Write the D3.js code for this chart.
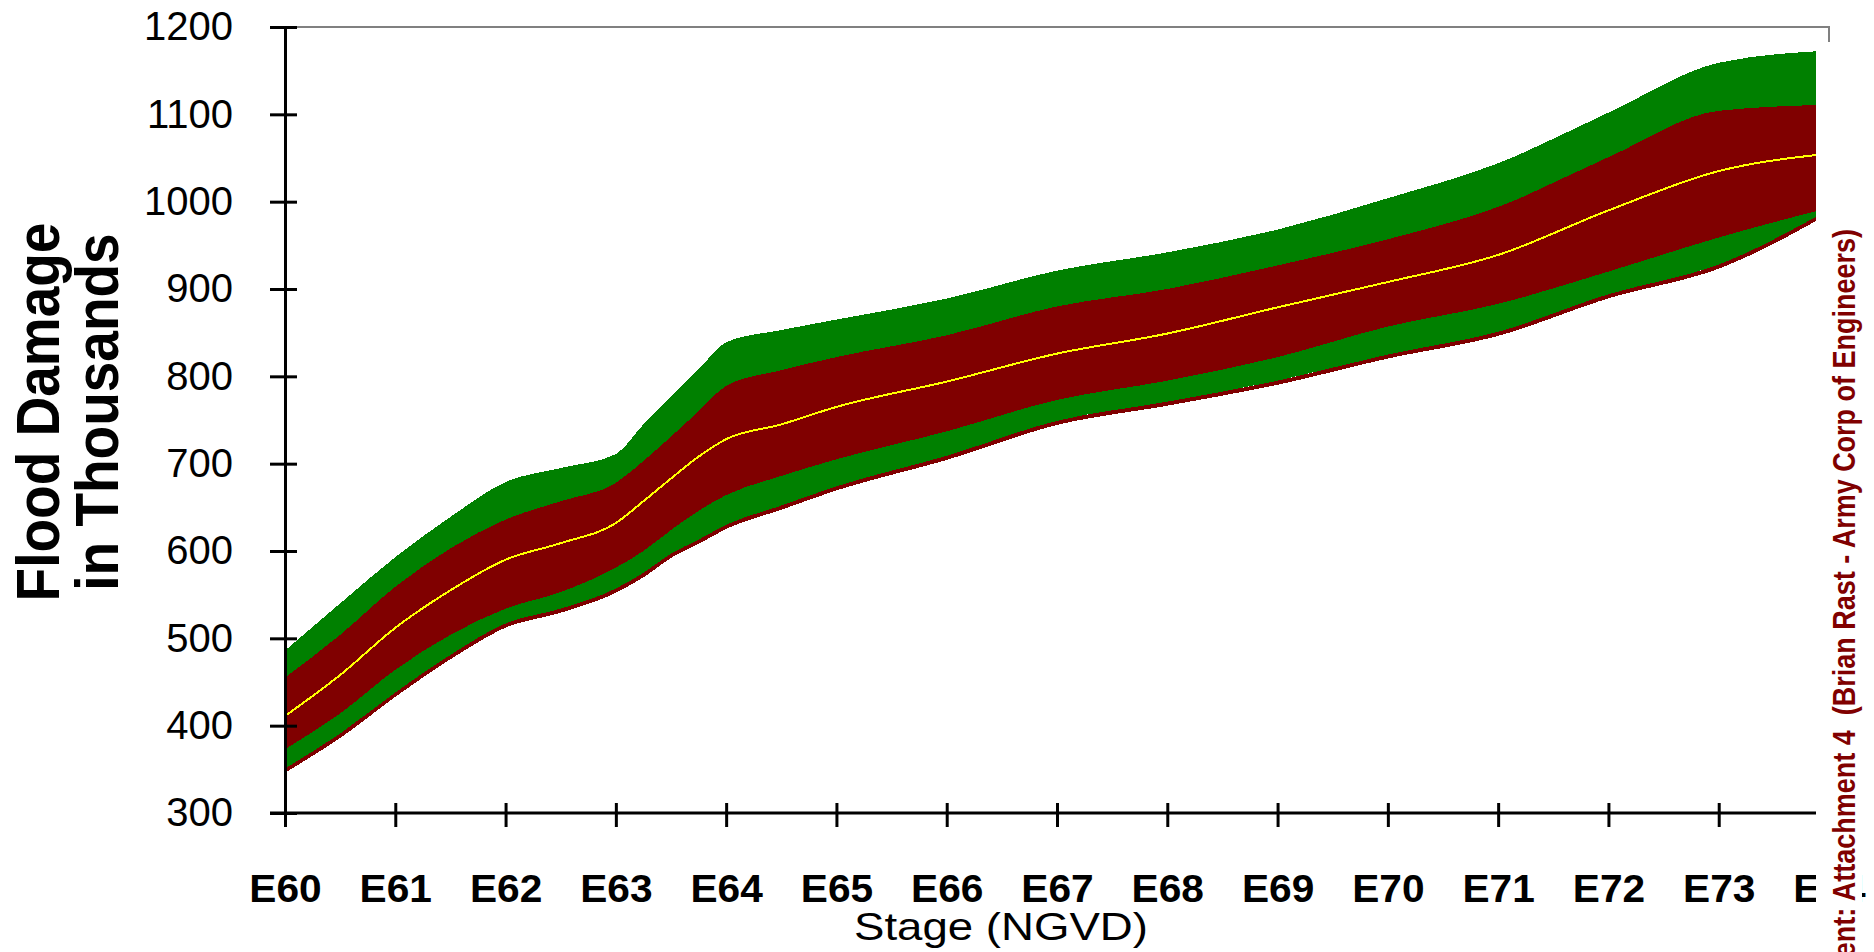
<!DOCTYPE html>
<html lang="en">
<head>
    <meta charset="utf-8">
    <title>Flood Damage by Stage</title>
    <script type="text/javascript" src="https://d3js.org/d3.v7.min.js"></script>
    <style>
        body { margin: 0; background: #fff; }
        svg { display: block; }
    </style>
</head>
<body>
    <script type="text/javascript">

        // stage values (E60 .. E74)
        var stages     = [60, 60.5, 61, 61.5, 62, 62.5, 63, 63.25, 63.5, 63.75, 64, 64.5, 65, 66, 67, 68, 69, 70, 71, 72, 73, 74];
        var outerHigh  = [486, 540, 593, 639, 679, 695, 711, 745, 777, 808, 839, 853, 865, 889, 921, 942, 968, 1004, 1044, 1102, 1159, 1173];
        var innerHigh  = [455, 504, 559, 603, 636, 657, 678, 703, 731, 760, 789, 807, 822, 847, 880, 900, 927, 957, 994, 1051, 1104, 1111];
        var meanDamage = [411, 458, 512, 555, 590, 609, 632, 657, 683, 708, 728, 745, 765, 794, 826, 849, 879, 908, 939, 990, 1035, 1055];
        var innerLow   = [373, 414, 464, 504, 534, 553, 581, 600, 624, 646, 664, 686, 705, 737, 773, 795, 822, 857, 883, 920, 959, 993];
        var outerLow   = [351, 391, 438, 481, 517, 534, 557, 575, 597, 613, 630, 652, 674, 709, 749, 771, 795, 825, 851, 894, 928, 991];

        var xTicks = [60, 61, 62, 63, 64, 65, 66, 67, 68, 69, 70, 71, 72, 73, 74];
        var xTickLabels = ["E60", "E61", "E62", "E63", "E64", "E65", "E66", "E67", "E68", "E69", "E70", "E71", "E72", "E73", "E74"];
        var yTicks = [300, 400, 500, 600, 700, 800, 900, 1000, 1100, 1200];

        var width = 1874, height = 952;
        var font = "'Liberation Sans', Arial, sans-serif";

        var svg = d3.select("body")
            .append("svg")
            .attr("width", width)
            .attr("height", height);

        var x = d3.scaleLinear().domain([60, 74]).range([285, 1829]);
        var y = d3.scaleLinear().domain([300, 1200]).range([813, 27]);

        var rows = stages.map(function (s, i) {
            return { s: s, oh: outerHigh[i], ih: innerHigh[i], m: meanDamage[i], il: innerLow[i], ol: outerLow[i] };
        });

        // bands
        var outerArea = d3.area()
            .x(function (d) { return x(d.s); })
            .y0(function (d) { return y(d.ol); })
            .y1(function (d) { return y(d.oh); })
            .curve(d3.curveMonotoneX);

        var innerArea = d3.area()
            .x(function (d) { return x(d.s); })
            .y0(function (d) { return y(d.il); })
            .y1(function (d) { return y(d.ih); })
            .curve(d3.curveMonotoneX);

        var lowLine = d3.line()
            .x(function (d) { return x(d.s); })
            .y(function (d) { return y(d.ol); })
            .curve(d3.curveMonotoneX);

        var meanLine = d3.line()
            .x(function (d) { return x(d.s); })
            .y(function (d) { return y(d.m); })
            .curve(d3.curveMonotoneX);

        svg.append("path")
            .datum(rows)
            .attr("d", lowLine)
            .attr("transform", "translate(0,2)")
            .attr("fill", "none")
            .attr("stroke", "#800000")
            .attr("stroke-width", 4)
            .attr("shape-rendering", "crispEdges");

        svg.append("path")
            .datum(rows)
            .attr("d", outerArea)
            .attr("fill", "#008000")
            .attr("shape-rendering", "crispEdges");

        svg.append("path")
            .datum(rows)
            .attr("d", innerArea)
            .attr("fill", "#800000")
            .attr("shape-rendering", "crispEdges");

        svg.append("path")
            .datum(rows)
            .attr("d", meanLine)
            .attr("fill", "none")
            .attr("stroke", "#ffff00")
            .attr("stroke-width", 2)
            .attr("shape-rendering", "crispEdges");

        // grey frame on top / right
        svg.append("path")
            .attr("d", "M" + x(60) + "," + y(1200) + "H" + x(74) + "V" + (y(1200) + 15))
            .attr("fill", "none")
            .attr("stroke", "#808080")
            .attr("stroke-width", 2);

        // y axis
        var yAxis = svg.append("g")
            .attr("transform", "translate(" + x(60) + ",0)")
            .call(d3.axisLeft(y).tickValues(yTicks).tickSize(15).tickPadding(37).tickFormat(d3.format("d")));
        yAxis.select(".domain").attr("stroke", "#000").attr("stroke-width", 3);
        yAxis.selectAll(".tick line").attr("x1", -15).attr("x2", 12).attr("stroke", "#000").attr("stroke-width", 3);
        yAxis.selectAll(".tick text")
            .attr("font-family", font)
            .attr("font-size", 40)
            .attr("fill", "#000");

        // x axis
        var xAxis = svg.append("g")
            .attr("transform", "translate(0," + y(300) + ")")
            .call(d3.axisBottom(x).tickValues(xTicks).tickSize(14)
                .tickFormat(function (d, i) { return xTickLabels[i]; }));
        xAxis.select(".domain").attr("d", "M" + (x(60) - 15) + ",0H" + x(74)).attr("stroke", "#000").attr("stroke-width", 3);
        xAxis.selectAll(".tick line").attr("y1", -10).attr("y2", 14).attr("stroke", "#000").attr("stroke-width", 3);
        xAxis.selectAll(".tick text")
            .attr("y", 0)
            .attr("dy", 0)
            .attr("font-family", font)
            .attr("font-size", 38)
            .attr("font-weight", "bold")
            .attr("fill", "#000")
            .attr("transform", "translate(0,89) scale(1.07,1)");

        // axis titles
        svg.append("text")
            .attr("transform", "translate(1001,940) scale(1.2,1)")
            .attr("text-anchor", "middle")
            .attr("font-family", font)
            .attr("font-size", 38)
            .attr("fill", "#000")
            .text("Stage (NGVD)");

        var yTitle = ["Flood Damage", "in Thousands"];
        var yTitleX = [59, 118];
        yTitle.forEach(function (t, i) {
            svg.append("text")
                .attr("transform", "translate(" + yTitleX[i] + ",412) scale(1.12,1) rotate(-90)")
                .attr("text-anchor", "middle")
                .attr("font-family", font)
                .attr("font-size", 55)
                .attr("font-weight", "bold")
                .attr("fill", "#000")
                .text(t);
        });

        // side note, on a white strip over the right edge
        svg.append("rect")
            .attr("x", 1816)
            .attr("y", 45)
            .attr("width", 46)
            .attr("height", height - 45)
            .attr("fill", "#fff");

        svg.append("text")
            .attr("transform", "translate(1855,229) scale(1.15,1) rotate(-90)")
            .attr("text-anchor", "end")
            .attr("font-family", font)
            .attr("font-size", 27)
            .attr("font-weight", "bold")
            .attr("fill", "#800000")
            .style("white-space", "pre")
            .text("ent: Attachment 4  (Brian Rast - Army Corp of Engineers)");

    </script>
</body>
</html>
